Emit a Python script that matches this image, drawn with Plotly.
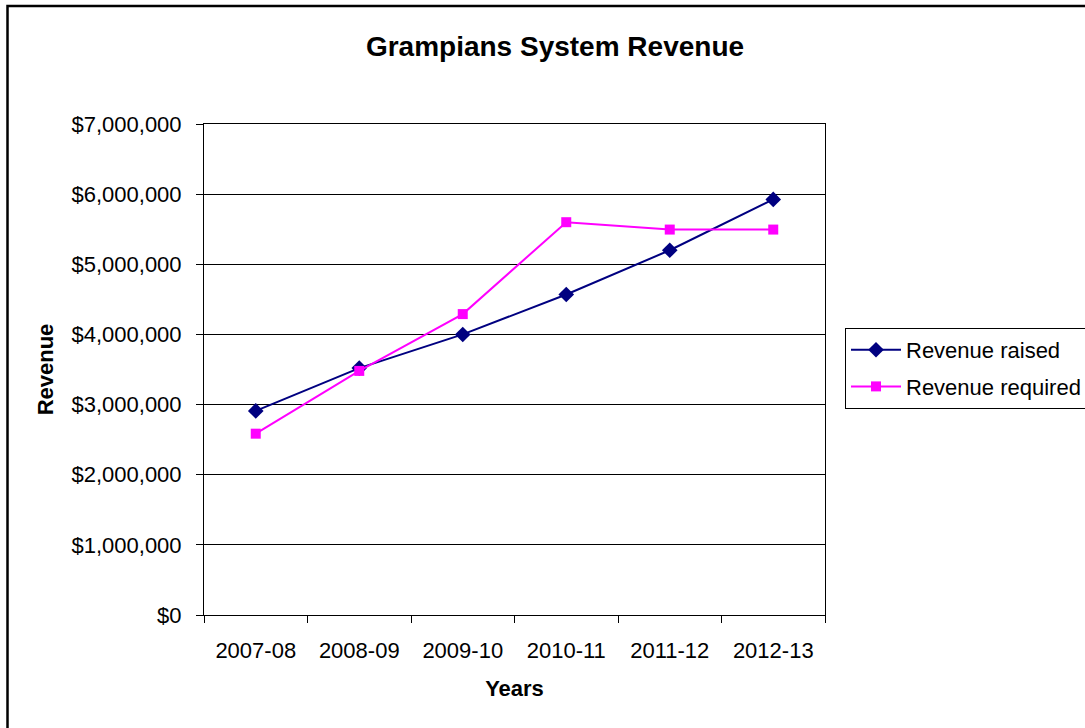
import plotly.graph_objects as go

years = ["2007-08", "2008-09", "2009-10", "2010-11", "2011-12", "2012-13"]
revenue_raised = [2910000, 3520000, 4000000, 4570000, 5200000, 5925000]
revenue_required = [2585000, 3480000, 4290000, 5600000, 5495000, 5495000]

FONT = "Liberation Sans, Arial, sans-serif"

fig = go.Figure()
fig.add_trace(go.Scatter(
    x=years, y=revenue_raised, name="Revenue raised", mode="lines+markers",
    line=dict(color="#000080", width=2),
    marker=dict(symbol="diamond", size=12, color="#000080"),
    legendgroup="a",
))
fig.add_trace(go.Scatter(
    x=years, y=revenue_required, name="Revenue required", mode="lines+markers",
    line=dict(color="#FF00FF", width=2),
    marker=dict(symbol="square", size=10, color="#FF00FF"),
    legendgroup="b",
))

L, R, T, B = 204, 825, 124, 615
W, H = 1085, 728
pw, ph = R - L, B - T

fig.update_layout(
    width=W, height=H,
    margin=dict(l=L, r=W - R, t=T, b=H - B, autoexpand=False),
    paper_bgcolor="white", plot_bgcolor="white",
    font=dict(family=FONT, size=22, color="black"),
    title=dict(text="<b>Grampians System Revenue</b>", font=dict(size=28, color="black"),
               x=(555 - L) / pw, xref="paper", xanchor="center",
               y=1 - 46 / H, yref="container", yanchor="middle"),
    showlegend=True,
    legend=dict(x=(845 - L) / pw, y=(B - 328) / ph, xanchor="left", yanchor="top",
                bordercolor="black", borderwidth=1, bgcolor="white",
                font=dict(size=22), tracegroupgap=5, itemwidth=50),
    xaxis=dict(
        type="category", range=[-0.5, 5.5], tickson="boundaries", ticks="outside", ticklen=7,
        tickcolor="black", showline=True, linecolor="black", linewidth=1, mirror=True,
        showgrid=False, ticklabelstandoff=16,
        title=dict(text="<b>Years</b>", font=dict(size=22), standoff=18),
        automargin=False,
    ),
    yaxis=dict(
        range=[0, 7000000], dtick=1000000, tick0=0, tickprefix="$", tickformat=",d",
        ticks="outside", ticklen=7, tickcolor="black",
        showline=True, linecolor="black", linewidth=1, mirror=True,
        showgrid=True, gridcolor="black", gridwidth=1, zeroline=False,
        ticklabelstandoff=10,
        title=dict(text="<b>Revenue</b>", font=dict(size=22), standoff=11),
        automargin=False,
    ),
    shapes=[dict(type="rect", xref="paper", yref="paper",
                 x0=(7.5 - L) / pw, x1=(W + 20 - L) / pw,
                 y0=(B - (H + 20)) / ph, y1=(B - 6) / ph,
                 line=dict(color="black", width=2.5), fillcolor="rgba(0,0,0,0)",
                 layer="above")],
)

fig.write_html("out.html")
